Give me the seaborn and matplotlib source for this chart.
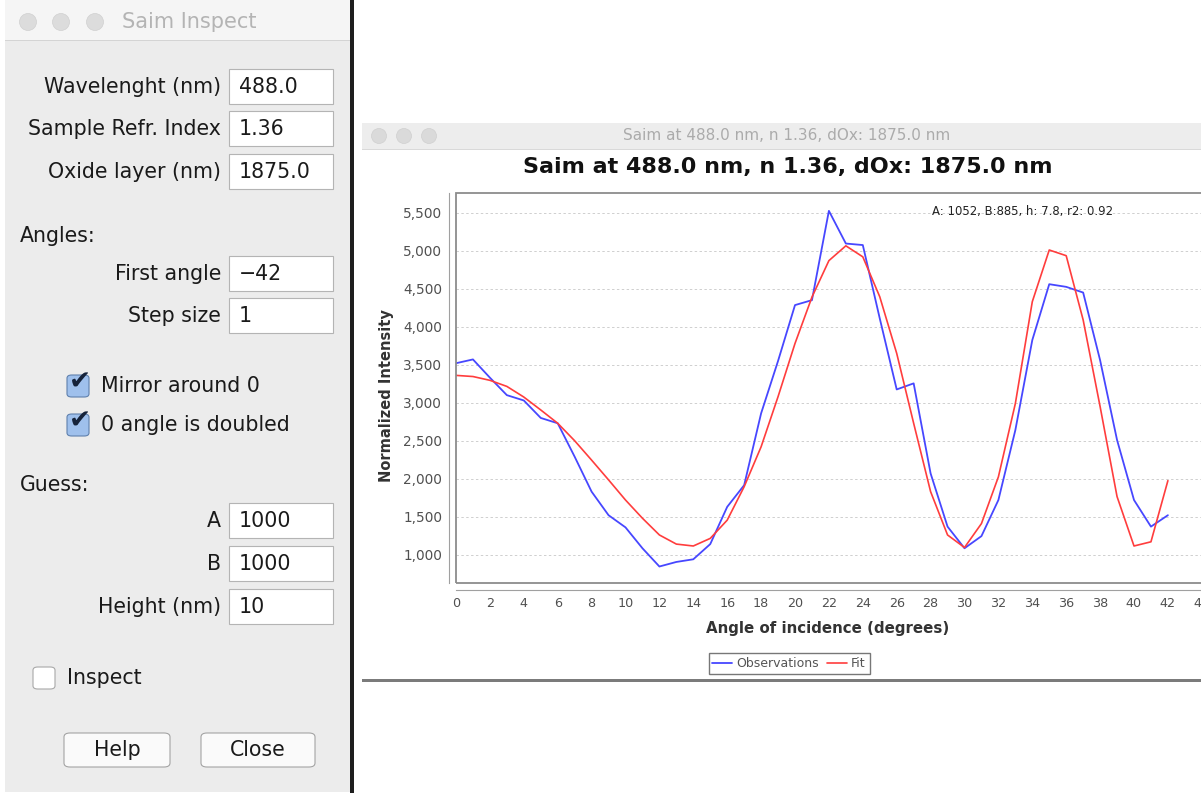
import numpy as np
import pandas as pd
import seaborn as sns
import matplotlib.pyplot as plt
from matplotlib.patches import Rectangle, FancyBboxPatch, Ellipse
from matplotlib.ticker import FuncFormatter

# data
angles = list(range(0, 43))
observations = [3520, 3570, 3330, 3100, 3030, 2800, 2730, 2290, 1830, 1520,
                1360, 1085, 845, 905, 940, 1140, 1630, 1915, 2860, 3550,
                4285, 4350, 5525, 5095, 5075, 4110, 3175, 3255, 2070, 1370,
                1085, 1245, 1720, 2640, 3825, 4560, 4525, 4450, 3560, 2510,
                1720, 1370, 1520]
fit = [3360, 3345, 3295, 3215, 3075, 2905, 2730, 2500, 2245, 1985,
       1720, 1480, 1260, 1140, 1115, 1215, 1455, 1895, 2420, 3080,
       3780, 4390, 4870, 5065, 4920, 4395, 3650, 2730, 1830, 1260,
       1095, 1410, 2025, 2990, 4330, 5010, 4935, 4090, 2950, 1765,
       1115, 1170, 1975]
ytick_values = [1000, 1500, 2000, 2500, 3000, 3500, 4000, 4500, 5000, 5500]
xtick_values = list(range(0, 46, 2))
title = "Saim at 488.0 nm, n 1.36, dOx: 1875.0 nm"
fit_info = "A: 1052, B:885, h: 7.8, r2: 0.92"

# dialog contents
field_labels = ["Wavelenght (nm)", "Sample Refr. Index", "Oxide layer (nm)",
                "First angle", "Step size", "A", "B", "Height (nm)"]
field_values = ["488.0", "1.36", "1875.0", "\u221242", "1", "1000", "1000", "10"]
field_rows = [87, 129, 172, 274, 316, 521, 564, 607]

df = pd.DataFrame({"angle": angles, "obs": observations, "fit": fit})

sns.set_style("white")
plt.rcParams["font.family"] = ["DejaVu Sans"]

W, H = 1201, 793
fig = plt.figure(figsize=(W / 100, H / 100), dpi=100)
fig.patch.set_facecolor("white")


def fx(x):
    return x / W


def fy(y):
    return 1 - y / H


def rect(x0, y0, x1, y1, **kw):
    p = Rectangle((fx(x0), fy(y1)), fx(x1) - fx(x0), fy(y0) - fy(y1),
                  transform=fig.transFigure, **kw)
    fig.patches.append(p)
    return p


def rbox(x0, y0, x1, y1, r=0.004, **kw):
    p = FancyBboxPatch((fx(x0), fy(y1)), fx(x1) - fx(x0), fy(y0) - fy(y1),
                       boxstyle=f"round,pad=0,rounding_size={r}",
                       transform=fig.transFigure, **kw)
    fig.patches.append(p)
    return p


def dot(x, y, r, color):
    c = Ellipse((fx(x), fy(y)), 2 * r / W, 2 * r / H, transform=fig.transFigure,
                facecolor=color, edgecolor="#d0d0d0", lw=0.5)
    fig.patches.append(c)


# ---- left dialog ----
rect(5, 0, 351, 792, facecolor="#ececec", edgecolor="none")
rect(5, 0, 351, 40, facecolor="#f5f5f5", edgecolor="none")
rect(5, 40, 351, 41, facecolor="#d4d4d4", edgecolor="none")
rect(350, 0, 354, 793, facecolor="#1e1e1e", edgecolor="none")
for cx in [28, 61, 95]:
    dot(cx, 22, 8.5, "#dcdcdc")
fig.text(fx(122), fy(22), "Saim Inspect", fontsize=15, color="#b4b4b4", va="center")

fs = 14.8
for lab, val, row in zip(field_labels, field_values, field_rows):
    fig.text(fx(221), fy(row), lab, fontsize=fs, color="#1a1a1a", ha="right", va="center")
    rect(229, row - 18, 333, row + 17, facecolor="white", edgecolor="#b4b4b4", lw=0.8)
    fig.text(fx(239), fy(row), val, fontsize=fs, color="#1a1a1a", va="center")

fig.text(fx(20), fy(236), "Angles:", fontsize=fs, color="#1a1a1a", va="center")
fig.text(fx(20), fy(485), "Guess:", fontsize=fs, color="#1a1a1a", va="center")

for row, lab in [(386, "Mirror around 0"), (425, "0 angle is doubled")]:
    rbox(67, row - 11, 89, row + 11, r=0.004, facecolor="#9fc0ec", edgecolor="#5f80ad", lw=0.8)
    fig.text(fx(80), fy(row - 3), "\u2714", fontsize=19, color="#16233a", ha="center", va="center")
    fig.text(fx(101), fy(row), lab, fontsize=fs, color="#1a1a1a", va="center")

rbox(33, 667, 55, 689, r=0.004, facecolor="white", edgecolor="#a8a8a8", lw=0.8)
fig.text(fx(67), fy(678), "Inspect", fontsize=fs, color="#1a1a1a", va="center")

for x0, x1, lab in [(64, 170, "Help"), (201, 315, "Close")]:
    rbox(x0, 733, x1, 767, r=0.005, facecolor="#fafafa", edgecolor="#a4a4a4", lw=0.8)
    fig.text(fx((x0 + x1) / 2), fy(750), lab, fontsize=fs, color="#1a1a1a",
             ha="center", va="center")

# ---- chart window ----
rect(362, 123, 1201, 149, facecolor="#ededed", edgecolor="none")
rect(362, 149, 1201, 150, facecolor="#d9d9d9", edgecolor="none")
for cx in [379, 404, 429]:
    dot(cx, 136, 7.5, "#dadada")
fig.text(fx(787), fy(136), title, fontsize=11, color="#ababab", ha="center", va="center")
rect(362, 679, 1201, 682, facecolor="#5a5a5a", edgecolor="none", alpha=0.8)

fig.text(fx(788), fy(167), title, fontsize=16, fontweight="bold", color="#111111",
         ha="center", va="center")

ax_l, ax_r, ax_t, ax_b = 456, 1230, 193, 583
ax = fig.add_axes([fx(ax_l), fy(ax_b), fx(ax_r) - fx(ax_l), fy(ax_t) - fy(ax_b)])
ax.set_facecolor("white")

sns.lineplot(data=df, x="angle", y="obs", ax=ax, color="#4747ff", lw=1.3,
             label="Observations")
sns.lineplot(data=df, x="angle", y="fit", ax=ax, color="#ff3d3d", lw=1.2, label="Fit")

ax.set_xlim(0, (ax_r - ax_l) / 16.95)
ax.set_ylim(628, 5760)
ax.set_xticks(xtick_values)
ax.set_yticks(ytick_values)
ax.yaxis.set_major_formatter(FuncFormatter(lambda v, p: f"{int(v):,}"))
ax.grid(axis="y", color="#cfcfcf", lw=0.7, ls=(0, (2.5, 2.5)))
ax.grid(axis="x", visible=False)
ax.set_xlabel("")
ax.set_ylabel("")

for side in ["top", "right"]:
    ax.spines[side].set_visible(False)
for side in ["left", "bottom"]:
    ax.spines[side].set_position(("outward", 5))
    ax.spines[side].set_color("#a0a0a0")
    ax.spines[side].set_linewidth(0.8)
ax.add_patch(Rectangle((0, 0), 1, 1, transform=ax.transAxes, fill=False,
                       edgecolor="#8c8c8c", lw=1.3, clip_on=False, zorder=5))
ax.tick_params(axis="both", which="major", direction="out", length=3, width=0.7,
               color="#a0a0a0", labelcolor="#505050", pad=2)
ax.tick_params(axis="y", labelsize=9.8)
ax.tick_params(axis="x", labelsize=9.2)

fig.text(fx(387), fy(396), "Normalized Intensity", fontsize=10.5, fontweight="bold",
         color="#333333", rotation=90, ha="center", va="center")
fig.text(fx(828), fy(628), "Angle of incidence (degrees)", fontsize=10.8,
         fontweight="bold", color="#333333", ha="center", va="center")
fig.text(fx(1023), fy(211), fit_info, fontsize=8.4, color="#222222",
         ha="center", va="center")

leg = ax.legend(loc="center", bbox_to_anchor=(fx(789), fy(663.5)),
                bbox_transform=fig.transFigure, ncol=2, frameon=True,
                fancybox=False, fontsize=9, handlelength=1.6, handletextpad=0.3,
                columnspacing=0.7, borderpad=0.3, borderaxespad=0)
leg.get_frame().set_edgecolor("#555555")
leg.get_frame().set_linewidth(1.0)
for t in leg.get_texts():
    t.set_color("#555555")

fig.savefig("out.png", dpi=100)
